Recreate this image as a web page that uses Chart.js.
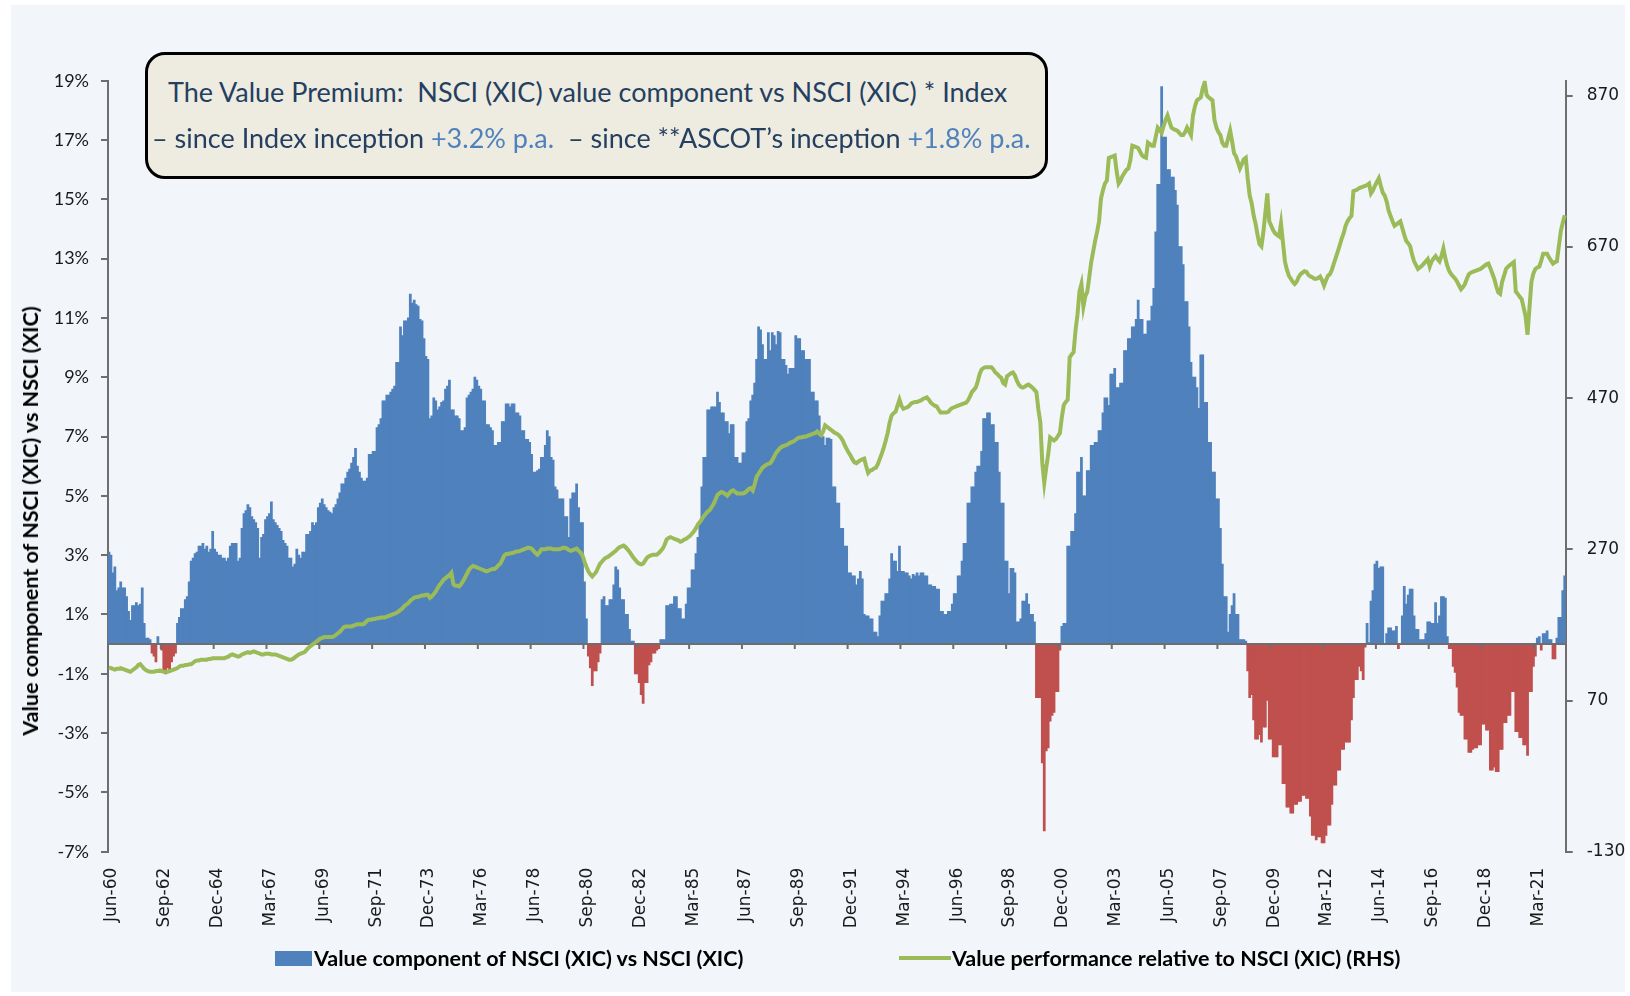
<!DOCTYPE html>
<html>
<head>
<meta charset="utf-8">
<script src="https://cdn.jsdelivr.net/npm/chart.js@4.4.1/dist/chart.umd.min.js"></script>
<style>
  html, body { margin: 0; padding: 0; background: #fff; }
  #wrap { position: relative; width: 1630px; height: 996px; overflow: hidden; background: #fff; }
  #panel { position: absolute; left: 11px; top: 5px; width: 1614px; height: 987px; background: #F2F5FA; }
  #chart { position: absolute; left: 0; top: 0; }
  #titleBox {
    position: absolute; left: 145px; top: 52px; width: 903px; height: 127px;
    box-sizing: border-box; border: 3px solid #000; border-radius: 20px; background: #EEEBE0;
    font-family: Lato, sans-serif; color: #243F60; font-size: 27px; white-space: nowrap;
  }
  #titleBox .ln { position: absolute; line-height: 32px; }
  #titleBox .hi { color: #4F81BD; }
  #yTitle {
    position: absolute; left: 30px; top: 521px; transform: translate(-50%, -50%) rotate(-90deg);
    font-family: Lato, sans-serif; font-weight: bold; font-size: 21.5px; color: #000; white-space: nowrap;
  }
  .lg { position: absolute; top: 946px; height: 24px; line-height: 24px; font-family: Lato, sans-serif;
        font-weight: bold; font-size: 21.5px; color: #000; white-space: nowrap; }
  .lg .sw { position: absolute; }
</style>
</head>
<body>
<div id="wrap">
  <div id="panel"></div>
  <canvas id="chart" width="1630" height="996"></canvas>
  <div id="titleBox">
    <div class="ln" style="left:20px;top:21px;">The Value Premium:&nbsp; NSCI (XIC) value component vs NSCI (XIC) * Index</div>
    <div class="ln" style="left:4px;top:67px;">– since Index inception <span class="hi">+3.2% p.a.</span>&nbsp; – since **ASCOT’s inception <span class="hi">+1.8% p.a.</span></div>
  </div>
  <div id="yTitle"></div>
  <div class="lg" id="lg1" style="left:275px;"><span class="sw" style="left:0;top:5px;width:37px;height:15px;background:#4F81BD;"></span><span id="lg1t" style="margin-left:39px;"></span></div>
  <div class="lg" id="lg2" style="left:899px;"><span class="sw" style="left:0;top:10px;width:52px;height:4px;background:#9BBB59;"></span><span id="lg2t" style="margin-left:53px;"></span></div>
</div>
<script>
const barLabel = 'Value component of NSCI (XIC) vs NSCI (XIC)';
const lineLabel = 'Value performance relative to NSCI (XIC) (RHS)';
const axisTitle = 'Value component of NSCI (XIC) vs NSCI (XIC)';

// monthly, Jun-60 .. Jun-22
const startYear = 1960, startMonth = 5;
const labelEvery = 27;
const xTickLabels = ['Jun-60','Sep-62','Dec-64','Mar-67','Jun-69','Sep-71','Dec-73','Mar-76','Jun-78','Sep-80',
  'Dec-82','Mar-85','Jun-87','Sep-89','Dec-91','Mar-94','Jun-96','Sep-98','Dec-00','Mar-03',
  'Jun-05','Sep-07','Dec-09','Mar-12','Jun-14','Sep-16','Dec-18','Mar-21'];
const leftTicks = [-7, -5, -3, -1, 1, 3, 5, 7, 9, 11, 13, 15, 17, 19];
const rightTicks = [-130, 70, 270, 470, 670, 870];

// value component (%), one per month
const valuePremium = [
  3.1, 3.0, 2.4, 2.6, 1.8, 1.9, 2.1, 1.9, 1.9, 1.6,
  1.1, 0.8, 1.3, 1.3, 1.4, 1.3, 1.35, 1.9, 0.7, 0.2,
  0.2, 0.15, -0.3, -0.4, -0.6, 0.25, 0.0, -0.2, -0.9, -1.0,
  -0.8, -0.9, -0.6, -0.4, -0.3, 0.7, 0.9, 1.2, 1.2, 1.5,
  1.6, 2.1, 2.8, 2.9, 3.05, 3.1, 3.3, 3.3, 3.4, 3.2,
  3.3, 3.1, 3.2, 3.8, 3.2, 3.1, 3.0, 3.0, 2.9, 2.9,
  2.8, 2.9, 3.3, 3.4, 3.4, 3.4, 2.8, 2.9, 3.9, 4.4,
  4.5, 4.7, 4.6, 4.3, 4.2, 4.1, 3.9, 2.9, 3.6, 3.7,
  4.2, 4.3, 4.4, 4.8, 4.2, 4.1, 4.0, 3.9, 3.8, 3.5,
  3.4, 3.3, 2.9, 2.9, 2.6, 2.7, 3.2, 3.0, 2.9, 3.1,
  3.1, 3.7, 3.7, 3.8, 4.1, 4.0, 4.1, 4.6, 4.75, 4.9,
  4.7, 4.6, 4.5, 4.45, 4.4, 4.6, 4.7, 4.9, 5.1, 5.4,
  5.4, 5.6, 5.8, 5.9, 6.1, 6.3, 6.6, 6.0, 5.8, 5.6,
  5.5, 5.5, 5.6, 6.4, 6.4, 6.5, 6.5, 7.3, 7.4, 7.6,
  8.2, 8.2, 8.4, 8.4, 8.5, 8.6, 8.7, 9.5, 9.5, 10.7,
  10.4, 10.9, 10.9, 11.0, 11.8, 11.5, 11.6, 11.45, 11.4, 10.95,
  10.9, 10.3, 9.7, 9.6, 7.6, 7.7, 8.3, 8.2, 7.9, 8.0,
  8.15, 8.2, 8.6, 8.7, 8.9, 7.9, 7.9, 7.7, 7.7, 7.6,
  7.2, 7.2, 7.3, 8.3, 8.4, 8.5, 8.6, 9.0, 8.9, 8.7,
  8.6, 8.2, 8.2, 7.4, 7.4, 7.3, 7.2, 6.7, 6.7, 6.8,
  6.8, 7.5, 7.5, 8.1, 8.1, 8.0, 8.1, 8.1, 7.8, 7.8,
  7.7, 7.2, 7.2, 6.9, 6.9, 6.8, 6.4, 5.8, 5.8, 5.85,
  5.9, 6.3, 6.3, 6.7, 7.2, 7.0, 6.3, 6.2, 5.3, 5.2,
  4.9, 4.9, 4.9, 4.3, 4.3, 3.6, 4.9, 5.1, 5.1, 5.4,
  4.6, 4.1, 4.1, 2.1, 0.85, -0.4, -0.8, -1.4, -0.9, -0.9,
  -0.6, -0.3, 1.5, 1.6, 1.3, 1.3, 1.5, 1.5, 2.0, 2.6,
  2.5, 1.9, 1.5, 1.5, 1.0, 1.0, 0.5, 0.1, 0.1, -1.0,
  -1.0, -1.3, -1.7, -2.0, -1.3, -1.3, -0.7, -0.6, -0.3, -0.3,
  -0.2, -0.15, 0.15, 0.15, 0.15, 1.3, 1.3, 1.35, 1.35, 1.6,
  1.6, 1.2, 1.2, 0.85, 0.85, 1.35, 1.9, 1.9, 2.5, 2.5,
  3.05, 3.6, 4.1, 5.3, 6.3, 6.3, 7.9, 7.9, 8.0, 8.0,
  8.0, 8.5, 8.15, 7.8, 7.8, 7.5, 7.5, 7.1, 7.4, 7.4,
  6.3, 6.3, 6.1, 6.1, 6.45, 6.45, 7.5, 7.6, 8.2, 8.4,
  8.8, 9.6, 10.7, 10.6, 10.1, 9.6, 9.6, 10.5, 9.9, 10.5,
  10.4, 10.1, 10.55, 10.5, 9.6, 9.6, 9.4, 9.1, 9.3, 9.3,
  9.3, 10.4, 10.3, 10.3, 9.9, 9.9, 9.6, 9.6, 9.6, 8.5,
  8.5, 8.2, 8.2, 7.7, 7.0, 7.0, 6.7, 6.95, 6.95, 6.9,
  5.3, 5.3, 4.75, 4.75, 3.9, 3.9, 3.3, 3.3, 2.4, 2.4,
  2.3, 2.3, 2.0, 2.2, 2.45, 2.2, 1.0, 0.95, 0.95, 0.85,
  0.85, 0.4, 0.4, 0.25, 0.95, 1.45, 1.45, 1.7, 1.7, 2.2,
  3.05, 2.8, 2.8, 2.45, 3.3, 2.45, 2.45, 2.4, 2.4, 2.3,
  2.2, 2.35, 2.3, 2.4, 2.3, 2.4, 2.4, 2.3, 2.3, 2.0,
  2.0, 1.95, 1.95, 1.85, 1.85, 1.1, 1.1, 1.0, 1.0, 1.1,
  1.1, 1.35, 1.7, 1.7, 2.3, 2.3, 2.8, 3.4, 3.4, 4.75,
  4.75, 5.3, 5.3, 5.8, 6.0, 6.0, 6.5, 7.6, 7.6, 7.8,
  7.8, 7.4, 7.4, 6.8, 6.8, 5.8, 4.75, 4.75, 2.8, 2.8,
  1.7, 2.55, 2.55, 2.4, 0.75, 0.75, 0.85, 1.45, 1.45, 1.7,
  1.35, 1.0, 1.0, 0.75, -1.8, -1.8, -1.8, -4.0, -6.3, -3.6,
  -3.5, -2.6, -2.4, -2.3, -1.6, -1.6, -0.2, 0.6, 0.7, 0.7,
  3.3, 3.3, 3.8, 3.8, 4.4, 5.8, 5.8, 6.3, 5.0, 5.0,
  5.85, 5.85, 6.7, 6.7, 6.8, 6.8, 7.2, 7.2, 7.8, 8.3,
  8.3, 8.05, 9.1, 9.1, 9.3, 8.65, 8.65, 8.8, 8.8, 9.9,
  9.9, 10.3, 10.3, 10.7, 10.7, 10.95, 11.6, 10.95, 10.95, 10.45,
  10.45, 10.9, 10.9, 11.4, 12.0, 13.9, 15.5, 15.5, 18.8, 17.1,
  17.1, 16.0, 16.0, 15.75, 15.75, 15.3, 14.8, 13.4, 13.4, 12.8,
  11.55, 11.55, 10.7, 9.5, 9.0, 9.0, 8.65, 7.95, 9.75, 9.75,
  8.15, 8.15, 6.8, 6.8, 5.8, 5.8, 4.9, 4.9, 3.9, 2.7,
  1.6, 1.6, 0.4, 1.0, 1.3, 1.7, 1.0, 1.0, 0.15, 0.15,
  0.15, 0.1, -0.9, -1.8, -1.7, -2.55, -3.2, -3.2, -3.05, -3.3,
  -2.8, -2.8, -1.9, -3.2, -3.2, -3.8, -3.8, -3.8, -3.4, -3.4,
  -4.7, -4.7, -5.5, -5.5, -5.7, -5.7, -5.4, -5.4, -5.3, -5.3,
  -5.1, -5.1, -5.2, -5.2, -5.8, -6.45, -6.45, -6.6, -6.5, -6.5,
  -6.7, -6.7, -6.45, -6.1, -6.1, -5.4, -4.75, -4.75, -4.25, -4.25,
  -3.55, -3.55, -3.3, -3.3, -3.3, -2.55, -1.8, -1.2, -1.2, -0.75,
  -0.9, -1.2, -0.1, 0.7, 0.05, 1.45, 1.8, 2.7, 2.8, 2.55,
  2.6, 2.6, 0.0, 0.35, 0.55, 0.55, 0.45, 0.45, 0.6, -0.15,
  0.0, 0.95, 1.95, 1.35, 1.65, 1.85, 1.85, 0.95, 0.5, 0.5,
  0.15, 0.15, 0.15, 0.35, 0.75, 0.75, 0.7, 0.7, 1.4, 0.7,
  0.95, 1.6, 1.6, 1.55, 0.25, -0.15, -0.15, -0.75, -0.95, -1.45,
  -2.3, -2.4, -2.4, -3.2, -3.2, -3.65, -3.65, -3.55, -3.5, -3.5,
  -3.4, -3.4, -2.7, -2.7, -2.9, -2.9, -4.25, -4.25, -4.15, -4.3,
  -4.3, -3.55, -3.55, -2.65, -2.65, -2.4, -2.4, -1.6, -1.6, -2.95,
  -2.95, -3.15, -3.15, -3.4, -3.4, -3.75, -1.6, -1.6, -0.75, -0.4,
  0.2, 0.25, -0.2, 0.35, 0.35, 0.45, 0.15, 0.15, -0.5, -0.5,
  0.2, 0.9, 0.9, 1.8, 2.3
];

// relative performance index (right axis), one per month
const relPerformance = [
  114, 113, 112, 111, 112, 112, 113, 112, 111, 110,
  109, 108, 110, 112, 114, 117, 118, 115, 112, 110,
  109, 108, 108, 108, 109, 109, 110, 109, 108, 108,
  108, 109, 110, 111, 112, 113, 115, 116, 116, 117,
  117, 118, 118, 120, 122, 123, 123, 124, 124, 124,
  124, 125, 125, 126, 126, 126, 126, 126, 126, 126,
  127, 128, 130, 131, 130, 129, 128, 129, 131, 132,
  133, 134, 133, 134, 135, 134, 133, 132, 131, 131,
  132, 132, 132, 131, 131, 131, 130, 129, 128, 127,
  126, 125, 124, 124, 125, 127, 129, 131, 132, 133,
  134, 137, 140, 142, 144, 146, 148, 150, 152, 153,
  154, 154, 154, 154, 154, 155, 157, 159, 161, 164,
  167, 168, 168, 168, 168, 169, 170, 171, 171, 171,
  171, 173, 176, 177, 177, 178, 178, 179, 179, 180,
  180, 180, 181, 182, 183, 184, 185, 186, 188, 190,
  192, 195, 197, 199, 202, 204, 206, 207, 207, 208,
  209, 209, 210, 210, 206, 208, 211, 214, 219, 223,
  226, 230, 232, 234, 236, 239, 224, 222, 222, 221,
  224, 228, 233, 238, 243, 246, 248, 247, 246, 245,
  244, 243, 242, 241, 242, 243, 244, 244, 246, 249,
  251, 256, 262, 264, 264, 265, 265, 266, 267, 267,
  268, 269, 270, 271, 272, 272, 271, 268, 265, 263,
  266, 270, 270, 270, 271, 271, 271, 270, 270, 270,
  270, 271, 272, 272, 271, 269, 268, 269, 270, 271,
  268, 266, 262, 254, 247, 241, 237, 234, 237, 240,
  246, 251, 254, 257, 259, 260, 262, 264, 266, 268,
  271, 273, 274, 275, 273, 270, 267, 263, 259, 256,
  253, 251, 250, 251, 255, 259, 261, 262, 263, 263,
  263, 265, 268, 271, 276, 283, 285, 286, 285, 284,
  283, 282, 280, 281, 283, 284, 286, 288, 291, 294,
  298, 303, 306, 310, 314, 317, 320, 322, 326, 330,
  336, 342, 344, 346, 345, 343, 341, 344, 347, 348,
  346, 344, 344, 344, 344, 345, 347, 350, 351, 348,
  356, 366, 370, 374, 378, 380, 382, 383, 384, 388,
  393, 398, 401, 404, 406, 407, 408, 409, 411, 412,
  413, 415, 417, 418, 418, 419, 419, 420, 421, 422,
  423, 424, 426, 423, 421, 426, 434, 432, 430, 428,
  426, 424, 423, 421, 418, 414, 408, 403, 398, 394,
  389, 385, 384, 386, 388, 389, 390, 380, 371, 374,
  375, 377, 378, 383, 390, 397, 405, 414, 424, 438,
  447, 450, 452, 460, 468, 460, 456, 457, 458, 460,
  463, 464, 465, 465, 466, 467, 469, 470, 471, 468,
  464, 462, 460, 459, 455, 451, 451, 451, 451, 452,
  455, 457, 458, 459, 460, 461, 462, 463, 464, 467,
  472, 478, 481, 484, 492, 502, 508, 510, 511, 511,
  511, 511, 508, 504, 502, 499, 497, 490, 488, 499,
  501, 503, 504, 500, 493, 488, 485, 484, 485, 487,
  488, 486, 484, 481, 478, 455, 438, 384, 358, 378,
  395, 418, 416, 414, 416, 420, 424, 445, 461, 465,
  468, 524, 528, 531, 560, 581, 611, 621, 591, 605,
  611, 630, 650, 664, 678, 690, 704, 734, 745, 754,
  758, 788, 789, 790, 791, 770, 754, 758, 764, 768,
  772, 774, 785, 804, 803, 802, 801, 796, 791, 789,
  788, 808, 806, 804, 804, 816, 828, 825, 821, 830,
  838, 844, 836, 828, 826, 825, 824, 821, 818, 818,
  822, 828, 823, 818, 844, 856, 864, 866, 868, 880,
  888, 871, 868, 866, 864, 838, 828, 822, 818, 808,
  804, 804, 814, 824, 810, 794, 790, 782, 774, 780,
  786, 788, 760, 738, 728, 712, 701, 686, 674, 671,
  690, 715, 741, 704, 698, 692, 688, 686, 684, 701,
  676, 651, 640, 632, 628, 624, 621, 624, 630, 634,
  636, 638, 637, 633, 631, 630, 628, 628, 629, 631,
  626, 619, 626, 632, 634, 640, 648, 656, 664, 672,
  681, 688, 698, 704, 708, 711, 744, 745, 746, 748,
  749, 750, 751, 752, 754, 741, 745, 751, 756, 761,
  751, 742, 738, 730, 718, 711, 704, 698, 700, 702,
  704, 695, 686, 678, 675, 671, 660, 651, 646, 641,
  643, 645, 648, 651, 654, 644, 651, 655, 658, 654,
  651, 658, 668, 655, 645, 638, 634, 631, 628, 624,
  619, 614, 617, 621, 628, 634, 636, 637, 638, 639,
  640, 641, 643, 645, 647, 648, 642, 635, 628, 618,
  610, 608, 624, 632, 641, 644, 646, 648, 650, 611,
  608, 604, 601, 590, 578, 554, 590, 624, 635, 641,
  643, 644, 652, 661, 661, 661, 656, 652, 648, 650,
  651, 671, 691, 702, 712
];

const monthNames = ['Jan','Feb','Mar','Apr','May','Jun','Jul','Aug','Sep','Oct','Nov','Dec'];
const categories = valuePremium.map((_, i) => {
  const m = startMonth + i;
  const y = startYear + Math.floor(m / 12);
  return monthNames[m % 12] + '-' + String(y % 100).padStart(2, '0');
});

const BLUE = '#4F81BD', RED = '#C0504D', GREEN = '#9BBB59', AXIS = '#6E6E6E';

document.getElementById('yTitle').textContent = axisTitle;
document.getElementById('lg1t').textContent = barLabel;
document.getElementById('lg2t').textContent = lineLabel;

// zero line + category tick marks, drawn between the bars and the line
const zeroAxis = {
  id: 'zeroAxis',
  beforeDatasetDraw(chart, args) {
    if (args.index !== 1) return;
    const { ctx, chartArea, scales } = chart;
    const y0 = scales.y.getPixelForValue(0);
    const step = scales.x.getPixelForValue(1) - scales.x.getPixelForValue(0);
    ctx.save();
    ctx.strokeStyle = AXIS;
    ctx.lineWidth = 2;
    ctx.beginPath();
    ctx.moveTo(chartArea.left, y0);
    ctx.lineTo(chartArea.right, y0);
    for (let i = labelEvery; i < categories.length; i += labelEvery) {
      const x = scales.x.getPixelForValue(i) - step / 2;
      ctx.moveTo(x, y0);
      ctx.lineTo(x, y0 + 5);
    }
    ctx.stroke();
    ctx.restore();
  }
};

new Chart(document.getElementById('chart'), {
  type: 'bar',
  data: {
    labels: categories,
    datasets: [
      {
        label: barLabel,
        data: valuePremium,
        backgroundColor: valuePremium.map(v => v < 0 ? RED : BLUE),
        borderWidth: 0,
        barPercentage: 1,
        categoryPercentage: 1,
        inflateAmount: 0.4,
        yAxisID: 'y',
        order: 1
      },
      {
        type: 'line',
        label: lineLabel,
        data: relPerformance,
        borderColor: GREEN,
        borderWidth: 4,
        pointRadius: 0,
        tension: 0,
        yAxisID: 'y2',
        order: 0
      }
    ]
  },
  options: {
    responsive: false,
    animation: false,
    layout: { padding: { top: 80.7, left: 0, right: 0, bottom: 0 } },
    plugins: { legend: { display: false }, tooltip: { enabled: false } },
    scales: {
      x: {
        afterFit: s => { s.height = 996 - 851.7; },
        grid: { display: false, drawTicks: false },
        border: { display: false },
        ticks: {
          autoSkip: false, minRotation: 90, maxRotation: 90, padding: 16, labelOffset: 3,
          color: '#1A1A1A', font: { family: 'DejaVu Sans', size: 17 },
          callback: (v, i) => i % labelEvery === 0 ? xTickLabels[i / labelEvery] : ''
        }
      },
      y: {
        position: 'left', min: -7, max: 19,
        afterBuildTicks: s => { s.ticks = leftTicks.map(v => ({ value: v })); },
        afterFit: s => { s.width = 108; },
        grid: { drawOnChartArea: false, tickLength: 7, color: AXIS, lineWidth: 2 },
        border: { display: true, color: AXIS, width: 2 },
        ticks: { padding: 12, color: '#1A1A1A', font: { family: 'Lato', size: 18 }, callback: v => v + '%' }
      },
      y2: {
        position: 'right', min: -130, max: 890,
        afterBuildTicks: s => { s.ticks = rightTicks.map(v => ({ value: v })); },
        afterFit: s => { s.width = 1630 - 1565.7; },
        grid: { drawOnChartArea: false, tickLength: 7, color: AXIS, lineWidth: 2 },
        border: { display: true, color: AXIS, width: 2 },
        ticks: { padding: 14, color: '#1A1A1A', font: { family: 'DejaVu Sans', size: 17 } }
      }
    }
  },
  plugins: [zeroAxis]
});
</script>
</body>
</html>
